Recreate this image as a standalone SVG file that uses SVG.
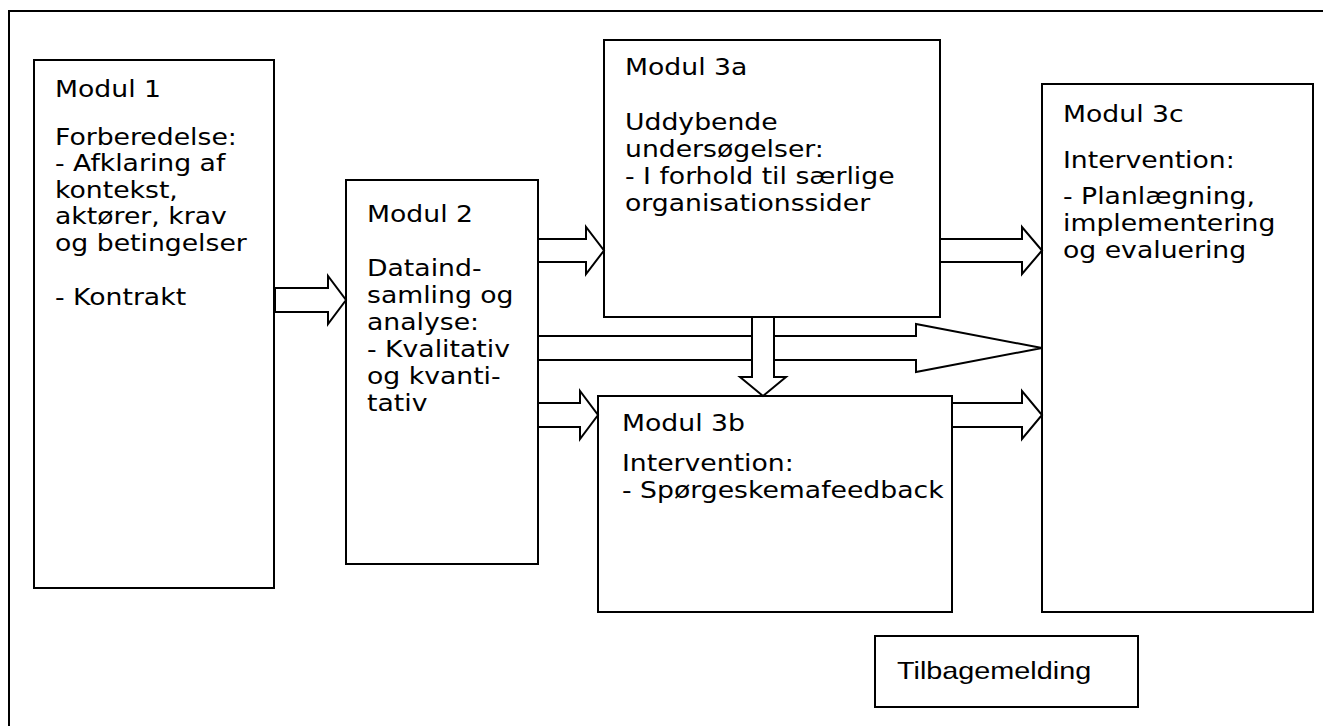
<svg xmlns="http://www.w3.org/2000/svg" width="1323" height="726" viewBox="0 0 1323 726">
  <style>
    .frame { fill: none; stroke: #000; stroke-width: 2; }
    .box { fill: #fff; stroke: #000; stroke-width: 2; }
    .arrow { fill: #fff; stroke: #000; stroke-width: 2; stroke-linejoin: miter; }
    .t { font-family: "DejaVu Sans", Verdana, sans-serif; font-size: 23px; fill: #000; }
    .t2 { font-family: "Liberation Sans", Arial, sans-serif; font-size: 24px; fill: #000; }
  </style>

  <!-- page frame (runs off the right and bottom edges) -->
  <rect class="frame" x="9" y="11" width="1340" height="740"/>

  <!-- text blocks are widened horizontally (scale 1.16, 1) from their left edge -->
  <g id="modul1">
    <rect class="box" x="34" y="60" width="240" height="528"/>
    <g transform="translate(55,0) scale(1.16,1)">
      <text class="t" x="0" y="97">Modul 1</text>
      <text class="t" x="0" y="145">Forberedelse:</text>
      <text class="t" x="0" y="171.5">- Afklaring af</text>
      <text class="t" x="0" y="198">kontekst,</text>
      <text class="t" x="0" y="224.5">aktører, krav</text>
      <text class="t" x="0" y="251">og betingelser</text>
      <text class="t" x="0" y="305">- Kontrakt</text>
    </g>
  </g>

  <g id="modul2">
    <rect class="box" x="346" y="180" width="192" height="384"/>
    <g transform="translate(367,0) scale(1.16,1)">
      <text class="t" x="0" y="222">Modul 2</text>
      <text class="t" x="0" y="276">Dataind-</text>
      <text class="t" x="0" y="303">samling og</text>
      <text class="t" x="0" y="330">analyse:</text>
      <text class="t" x="0" y="357">- Kvalitativ</text>
      <text class="t" x="0" y="384">og kvanti-</text>
      <text class="t" x="0" y="411">tativ</text>
    </g>
  </g>

  <g id="modul3a">
    <rect class="box" x="604" y="40" width="336" height="277"/>
    <g transform="translate(625,0) scale(1.16,1)">
      <text class="t" x="0" y="75">Modul 3a</text>
      <text class="t" x="0" y="130.5">Uddybende</text>
      <text class="t" x="0" y="157.5">undersøgelser:</text>
      <text class="t" x="0" y="184.5">- I forhold til særlige</text>
      <text class="t" x="0" y="211.5">organisationssider</text>
    </g>
  </g>

  <g id="modul3b">
    <rect class="box" x="598" y="396" width="354" height="216"/>
    <g transform="translate(622,0) scale(1.16,1)">
      <text class="t" x="0" y="431">Modul 3b</text>
      <text class="t" x="0" y="471">Intervention:</text>
      <text class="t" x="0" y="498">- Spørgeskemafeedback</text>
    </g>
  </g>

  <g id="modul3c">
    <rect class="box" x="1042" y="84" width="271" height="528"/>
    <g transform="translate(1063,0) scale(1.16,1)">
      <text class="t" x="0" y="122">Modul 3c</text>
      <text class="t" x="0" y="168">Intervention:</text>
      <text class="t" x="0" y="204">- Planlægning,</text>
      <text class="t" x="0" y="231">implementering</text>
      <text class="t" x="0" y="258">og evaluering</text>
    </g>
  </g>

  <g id="tilbagemelding">
    <rect class="box" x="875" y="636" width="263" height="71"/>
    <g transform="translate(897,0) scale(1.2,1)">
      <text class="t2" x="0" y="679">Tilbagemelding</text>
    </g>
  </g>

  <!-- block arrows -->
  <g id="connectors">
    <polygon class="arrow" points="275,288 328,288 328,276 346,300 328,324 328,312 275,312"/>
    <polygon class="arrow" points="538,239 586,239 586,227 604,250.5 586,274 586,262 538,262"/>
    <polygon class="arrow" points="940,239 1022,239 1022,227 1042,250.5 1022,274 1022,262 940,262"/>
    <polygon class="arrow" points="538,336 916,336 916,324 1042,348 916,372 916,360 538,360"/>
    <polygon class="arrow" points="752,317 752,377 740,377 763,396 786,377 774,377 774,317"/>
    <polygon class="arrow" points="538,403 580,403 580,391 598,415 580,439 580,427 538,427"/>
    <polygon class="arrow" points="952,403 1022,403 1022,391 1042,415 1022,439 1022,427 952,427"/>
  </g>
</svg>
